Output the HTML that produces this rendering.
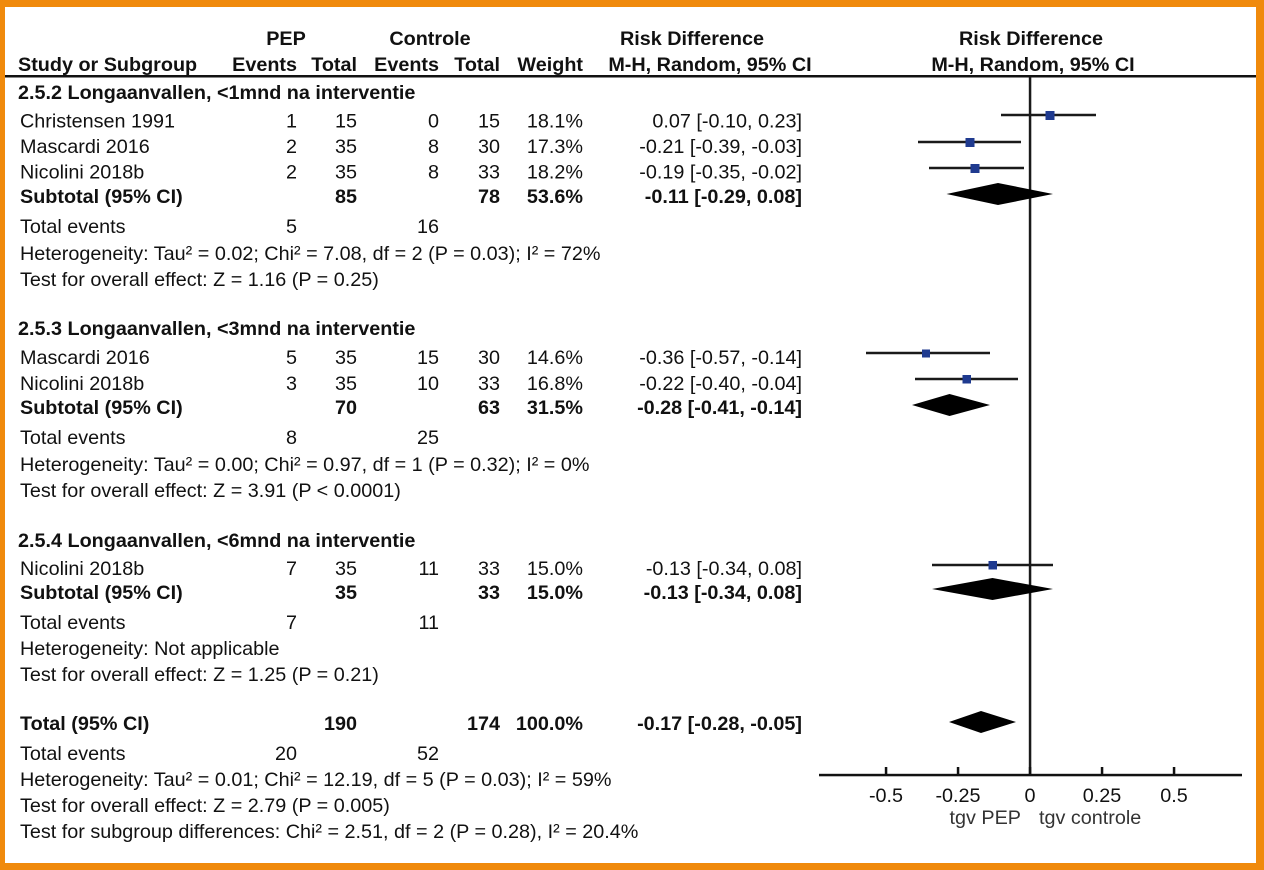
<!DOCTYPE html>
<html>
<head>
<meta charset="utf-8">
<style>
  html,body{margin:0;padding:0;background:#fff;}
  svg{display:block;}
  text{font-family:"Liberation Sans",Arial,sans-serif;font-size:19.8px;fill:#111;}
  .b{font-weight:bold;}
  .r{text-anchor:end;}
  .c{text-anchor:middle;}
</style>
</head>
<body>
<svg width="1264" height="870" viewBox="0 0 1264 870" xmlns="http://www.w3.org/2000/svg">
  <rect x="0" y="0" width="1264" height="870" fill="#F08A0C"/>
  <rect x="5" y="7" width="1251" height="856" fill="#ffffff"/>

  <!-- header -->
  <text class="b c" x="286" y="45">PEP</text>
  <text class="b c" x="430" y="45">Controle</text>
  <text class="b c" x="692" y="45">Risk Difference</text>
  <text class="b c" x="1031" y="45">Risk Difference</text>

  <text class="b" x="18" y="71">Study or Subgroup</text>
  <text class="b r" x="297" y="71">Events</text>
  <text class="b r" x="357" y="71">Total</text>
  <text class="b r" x="439" y="71">Events</text>
  <text class="b r" x="500" y="71">Total</text>
  <text class="b r" x="583" y="71">Weight</text>
  <text class="b c" x="710" y="71">M-H, Random, 95% CI</text>
  <text class="b c" x="1033" y="71">M-H, Random, 95% CI</text>

  <rect x="5" y="75" width="1251" height="2.5" fill="#111"/>

  <!-- Section 1 -->
  <text class="b" x="18" y="99">2.5.2 Longaanvallen, &lt;1mnd na interventie</text>

  <text x="20" y="127.5">Christensen 1991</text>
  <text class="r" x="297" y="127.5">1</text>
  <text class="r" x="357" y="127.5">15</text>
  <text class="r" x="439" y="127.5">0</text>
  <text class="r" x="500" y="127.5">15</text>
  <text class="r" x="583" y="127.5">18.1%</text>
  <text class="r" x="802" y="127.5">0.07 [-0.10, 0.23]</text>

  <text x="20" y="153">Mascardi 2016</text>
  <text class="r" x="297" y="153">2</text>
  <text class="r" x="357" y="153">35</text>
  <text class="r" x="439" y="153">8</text>
  <text class="r" x="500" y="153">30</text>
  <text class="r" x="583" y="153">17.3%</text>
  <text class="r" x="802" y="153">-0.21 [-0.39, -0.03]</text>

  <text x="20" y="178.5">Nicolini 2018b</text>
  <text class="r" x="297" y="178.5">2</text>
  <text class="r" x="357" y="178.5">35</text>
  <text class="r" x="439" y="178.5">8</text>
  <text class="r" x="500" y="178.5">33</text>
  <text class="r" x="583" y="178.5">18.2%</text>
  <text class="r" x="802" y="178.5">-0.19 [-0.35, -0.02]</text>

  <text class="b" x="20" y="203">Subtotal (95% CI)</text>
  <text class="b r" x="357" y="203">85</text>
  <text class="b r" x="500" y="203">78</text>
  <text class="b r" x="583" y="203">53.6%</text>
  <text class="b r" x="802" y="203">-0.11 [-0.29, 0.08]</text>

  <text x="20" y="233">Total events</text>
  <text class="r" x="297" y="233">5</text>
  <text class="r" x="439" y="233">16</text>
  <text x="20" y="260">Heterogeneity: Tau² = 0.02; Chi² = 7.08, df = 2 (P = 0.03); I² = 72%</text>
  <text x="20" y="286">Test for overall effect: Z = 1.16 (P = 0.25)</text>

  <!-- Section 2 -->
  <text class="b" x="18" y="335">2.5.3 Longaanvallen, &lt;3mnd na interventie</text>

  <text x="20" y="364">Mascardi 2016</text>
  <text class="r" x="297" y="364">5</text>
  <text class="r" x="357" y="364">35</text>
  <text class="r" x="439" y="364">15</text>
  <text class="r" x="500" y="364">30</text>
  <text class="r" x="583" y="364">14.6%</text>
  <text class="r" x="802" y="364">-0.36 [-0.57, -0.14]</text>

  <text x="20" y="390">Nicolini 2018b</text>
  <text class="r" x="297" y="390">3</text>
  <text class="r" x="357" y="390">35</text>
  <text class="r" x="439" y="390">10</text>
  <text class="r" x="500" y="390">33</text>
  <text class="r" x="583" y="390">16.8%</text>
  <text class="r" x="802" y="390">-0.22 [-0.40, -0.04]</text>

  <text class="b" x="20" y="414">Subtotal (95% CI)</text>
  <text class="b r" x="357" y="414">70</text>
  <text class="b r" x="500" y="414">63</text>
  <text class="b r" x="583" y="414">31.5%</text>
  <text class="b r" x="802" y="414">-0.28 [-0.41, -0.14]</text>

  <text x="20" y="444">Total events</text>
  <text class="r" x="297" y="444">8</text>
  <text class="r" x="439" y="444">25</text>
  <text x="20" y="471">Heterogeneity: Tau² = 0.00; Chi² = 0.97, df = 1 (P = 0.32); I² = 0%</text>
  <text x="20" y="497">Test for overall effect: Z = 3.91 (P &lt; 0.0001)</text>

  <!-- Section 3 -->
  <text class="b" x="18" y="547">2.5.4 Longaanvallen, &lt;6mnd na interventie</text>

  <text x="20" y="575">Nicolini 2018b</text>
  <text class="r" x="297" y="575">7</text>
  <text class="r" x="357" y="575">35</text>
  <text class="r" x="439" y="575">11</text>
  <text class="r" x="500" y="575">33</text>
  <text class="r" x="583" y="575">15.0%</text>
  <text class="r" x="802" y="575">-0.13 [-0.34, 0.08]</text>

  <text class="b" x="20" y="599">Subtotal (95% CI)</text>
  <text class="b r" x="357" y="599">35</text>
  <text class="b r" x="500" y="599">33</text>
  <text class="b r" x="583" y="599">15.0%</text>
  <text class="b r" x="802" y="599">-0.13 [-0.34, 0.08]</text>

  <text x="20" y="629">Total events</text>
  <text class="r" x="297" y="629">7</text>
  <text class="r" x="439" y="629">11</text>
  <text x="20" y="655">Heterogeneity: Not applicable</text>
  <text x="20" y="681">Test for overall effect: Z = 1.25 (P = 0.21)</text>

  <!-- Total -->
  <text class="b" x="20" y="730">Total (95% CI)</text>
  <text class="b r" x="357" y="730">190</text>
  <text class="b r" x="500" y="730">174</text>
  <text class="b r" x="583" y="730">100.0%</text>
  <text class="b r" x="802" y="730">-0.17 [-0.28, -0.05]</text>

  <text x="20" y="760">Total events</text>
  <text class="r" x="297" y="760">20</text>
  <text class="r" x="439" y="760">52</text>
  <text x="20" y="786">Heterogeneity: Tau² = 0.01; Chi² = 12.19, df = 5 (P = 0.03); I² = 59%</text>
  <text x="20" y="812">Test for overall effect: Z = 2.79 (P = 0.005)</text>
  <text x="20" y="838">Test for subgroup differences: Chi² = 2.51, df = 2 (P = 0.28), I² = 20.4%</text>

  <!-- Plot: zero line -->
  <rect x="1028.8" y="77" width="2.5" height="699" fill="#1a1a1a"/>

  <!-- CI lines -->
  <g stroke="#1a1a1a" stroke-width="2.6">
    <line x1="1001" y1="115" x2="1096" y2="115"/>
    <line x1="918" y1="142" x2="1021" y2="142"/>
    <line x1="929" y1="168" x2="1024" y2="168"/>
    <line x1="866" y1="353" x2="990" y2="353"/>
    <line x1="915" y1="379" x2="1018" y2="379"/>
    <line x1="932" y1="565" x2="1053" y2="565"/>
  </g>
  <g fill="#1f3a8f">
    <rect x="1045.5" y="111" width="9" height="9"/>
    <rect x="965.5" y="138" width="9" height="9"/>
    <rect x="970.5" y="164" width="9" height="9"/>
    <rect x="922" y="349.5" width="8" height="8"/>
    <rect x="962.5" y="375" width="8.5" height="8.5"/>
    <rect x="988.5" y="561" width="8.5" height="8.5"/>
  </g>

  <!-- Diamonds -->
  <g fill="#000">
    <polygon points="946.5,194 998,183 1053,194 998,205"/>
    <polygon points="912,405 949.5,394 990,405 949.5,416"/>
    <polygon points="932,589 992.5,578 1053,589 992.5,600"/>
    <polygon points="949,722 981,711 1016,722 981,733"/>
  </g>

  <!-- Axis -->
  <rect x="819" y="773.8" width="423" height="2.5" fill="#111"/>
  <g fill="#111">
    <rect x="884.8" y="767" width="2.5" height="8"/>
    <rect x="956.8" y="767" width="2.5" height="8"/>
    <rect x="1028.8" y="767" width="2.5" height="8"/>
    <rect x="1100.8" y="767" width="2.5" height="8"/>
    <rect x="1172.8" y="767" width="2.5" height="8"/>
  </g>
  <text class="c" x="886" y="802">-0.5</text>
  <text class="c" x="958" y="802">-0.25</text>
  <text class="c" x="1030" y="802">0</text>
  <text class="c" x="1102" y="802">0.25</text>
  <text class="c" x="1174" y="802">0.5</text>
  <text class="r" x="1021" y="824" style="fill:#333">tgv PEP</text>
  <text x="1039" y="824" style="fill:#333">tgv controle</text>
</svg>
</body>
</html>
